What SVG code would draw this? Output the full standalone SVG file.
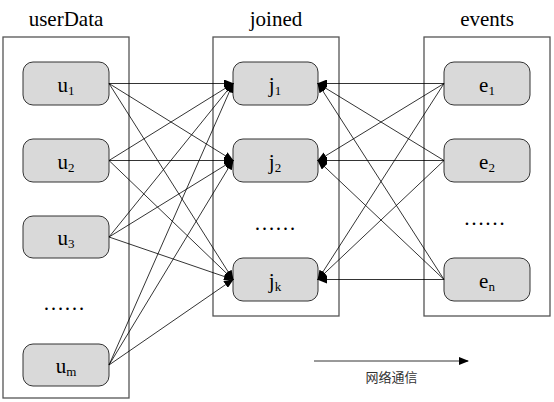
<svg xmlns="http://www.w3.org/2000/svg" width="554" height="402" viewBox="0 0 554 402">
<defs>
<marker id="ah" markerUnits="userSpaceOnUse" markerWidth="10" markerHeight="8" refX="9" refY="4" orient="auto">
<path d="M0,0 L10,4 L0,8 z" fill="#000"/>
</marker>
</defs>
<style>
.cont{fill:#fff;stroke:#555;stroke-width:1.3}
.node{fill:#d9d9d9;stroke:#333;stroke-width:1}
.title,.lbl,.dots{fill:#000;text-anchor:middle;font-weight:normal}
.title{font-size:21px}
.lbl{font-size:21px}
.sub{font-size:13px}
.dots{font-size:21px}
.c line{stroke:#000;stroke-width:0.8;marker-end:url(#ah)}
.cap{font-size:13px;fill:#333;text-anchor:middle}
</style>
<rect width="554" height="402" fill="#fff"/>

<g font-family="Liberation Serif, serif">
<g id="userData">
<rect class="cont" x="3" y="37" width="126" height="361"/>
<text class="title" x="66" y="26">userData</text>
<text class="dots" x="64" y="310">……</text>
</g>
<g id="joined">
<rect class="cont" x="213" y="37" width="126" height="279"/>
<text class="title" x="276" y="26">joined</text>
<text class="dots" x="275" y="230">……</text>
</g>
<g id="events">
<rect class="cont" x="424" y="37" width="126" height="279"/>
<text class="title" x="487" y="26">events</text>
<text class="dots" x="484.5" y="225">……</text>
</g>

<g id="u1"><rect class="node" x="23" y="62" width="86" height="43" rx="10"/><text class="lbl" x="66" y="92">u<tspan class="sub" dy="3">1</tspan></text></g>
<g id="u2"><rect class="node" x="23" y="139" width="86" height="43" rx="10"/><text class="lbl" x="66" y="169">u<tspan class="sub" dy="3">2</tspan></text></g>
<g id="u3"><rect class="node" x="23" y="216" width="86" height="42" rx="10"/><text class="lbl" x="66" y="245">u<tspan class="sub" dy="3">3</tspan></text></g>
<g id="um"><rect class="node" x="23" y="344" width="86" height="42" rx="10"/><text class="lbl" x="66" y="373">u<tspan class="sub" dy="3">m</tspan></text></g>

<g id="j1"><rect class="node" x="233" y="62" width="85" height="43" rx="10"/><text class="lbl" x="275" y="92">j<tspan class="sub" dy="3">1</tspan></text></g>
<g id="j2"><rect class="node" x="233" y="139" width="85" height="43" rx="10"/><text class="lbl" x="275" y="169">j<tspan class="sub" dy="3">2</tspan></text></g>
<g id="jk"><rect class="node" x="233" y="258" width="85" height="43" rx="10"/><text class="lbl" x="275" y="288">j<tspan class="sub" dy="3">k</tspan></text></g>

<g id="e1"><rect class="node" x="444" y="62" width="86" height="43" rx="10"/><text class="lbl" x="487" y="92">e<tspan class="sub" dy="3">1</tspan></text></g>
<g id="e2"><rect class="node" x="444" y="139" width="86" height="43" rx="10"/><text class="lbl" x="487" y="169">e<tspan class="sub" dy="3">2</tspan></text></g>
<g id="en"><rect class="node" x="444" y="258" width="86" height="43" rx="10"/><text class="lbl" x="487" y="288">e<tspan class="sub" dy="3">n</tspan></text></g>
</g>

<g id="connectors" class="c">
<line x1="109" y1="83.5" x2="233" y2="83.5"/>
<line x1="109" y1="83.5" x2="233" y2="160.5"/>
<line x1="109" y1="83.5" x2="233" y2="279.5"/>
<line x1="109" y1="160.5" x2="233" y2="83.5"/>
<line x1="109" y1="160.5" x2="233" y2="160.5"/>
<line x1="109" y1="160.5" x2="233" y2="279.5"/>
<line x1="109" y1="237" x2="233" y2="83.5"/>
<line x1="109" y1="237" x2="233" y2="160.5"/>
<line x1="109" y1="237" x2="233" y2="279.5"/>
<line x1="109" y1="365" x2="233" y2="83.5"/>
<line x1="109" y1="365" x2="233" y2="160.5"/>
<line x1="109" y1="365" x2="233" y2="279.5"/>
<line x1="444" y1="83.5" x2="318" y2="83.5"/>
<line x1="444" y1="83.5" x2="318" y2="160.5"/>
<line x1="444" y1="83.5" x2="318" y2="279.5"/>
<line x1="444" y1="160.5" x2="318" y2="83.5"/>
<line x1="444" y1="160.5" x2="318" y2="160.5"/>
<line x1="444" y1="160.5" x2="318" y2="279.5"/>
<line x1="444" y1="279.5" x2="318" y2="83.5"/>
<line x1="444" y1="279.5" x2="318" y2="160.5"/>
<line x1="444" y1="279.5" x2="318" y2="279.5"/>
<line x1="314" y1="361" x2="468" y2="361"/>
</g>
<text class="cap" x="391.5" y="382" font-family="Noto Sans CJK SC, sans-serif">网络通信</text>
</svg>
